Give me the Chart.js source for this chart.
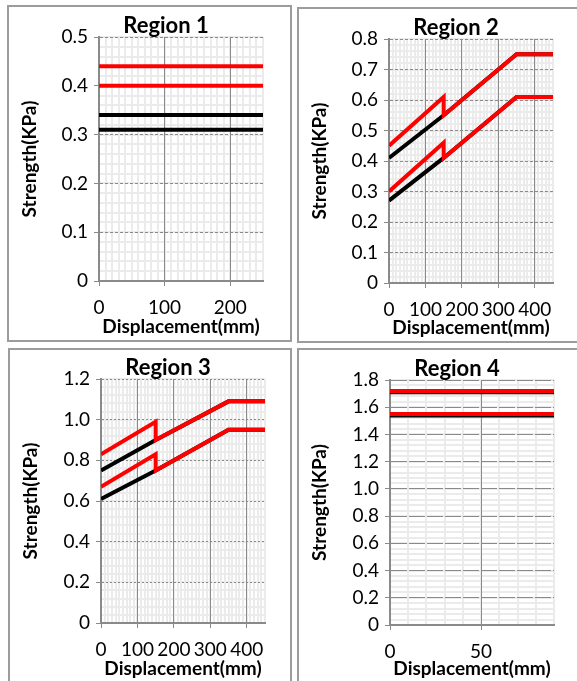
<!DOCTYPE html>
<html>
<head>
<meta charset="utf-8">
<title>Strength vs displacement by region</title>
<script src="https://cdn.jsdelivr.net/npm/chart.js@4.4.1/dist/chart.umd.min.js"></script>
<style>
  html, body { margin: 0; padding: 0; background: #fff; overflow: hidden; width: 577px; height: 681px; }
  .panel { position: absolute; border: 2px solid #9c9c9c; box-sizing: border-box; }
  canvas { position: absolute; }
</style>
</head>
<body>
<div class="panel" style="left:7px;top:5px;width:285px;height:337px"></div>
<div class="panel" style="left:297px;top:7px;width:300px;height:336px"></div>
<div class="panel" style="left:8px;top:348px;width:284px;height:360px"></div>
<div class="panel" style="left:297px;top:348px;width:300px;height:360px"></div>

<canvas id="region1" width="280" height="332" style="left:9px;top:7px"></canvas>
<canvas id="region2" width="278" height="331" style="left:299px;top:9px"></canvas>
<canvas id="region3" width="279" height="331" style="left:10px;top:350px"></canvas>
<canvas id="region4" width="278" height="331" style="left:299px;top:350px"></canvas>

<script>
// ---- data (displacement in mm, strength in KPa) ----

// Region 1: constant strength
const r1Disp = [0, 250];
const r1RedHigh = [0.44, 0.44];
const r1RedLow = [0.40, 0.40];
const r1BlackHigh = [0.34, 0.34];
const r1BlackLow = [0.31, 0.31];

// Region 2: red curves step down at 150 mm and join the black ones
const r2RedDisp = [0, 150, 150, 350, 450];
const r2BlackDisp = [0, 150, 350, 450];
const r2RedHigh = [0.45, 0.61, 0.55, 0.75, 0.75];
const r2BlackHigh = [0.41, 0.55, 0.75, 0.75];
const r2RedLow = [0.30, 0.46, 0.41, 0.61, 0.61];
const r2BlackLow = [0.27, 0.41, 0.61, 0.61];

// Region 3
const r3RedDisp = [0, 150, 150, 350, 450];
const r3BlackDisp = [0, 150, 350, 450];
const r3RedHigh = [0.83, 0.99, 0.90, 1.09, 1.09];
const r3BlackHigh = [0.75, 0.90, 1.09, 1.09];
const r3RedLow = [0.67, 0.83, 0.75, 0.95, 0.95];
const r3BlackLow = [0.61, 0.75, 0.95, 0.95];

// Region 4: constant strength
const r4Disp = [0, 90];
const r4RedHigh = [1.72, 1.72];
const r4RedLow = [1.55, 1.55];
const r4BlackHigh = [1.71, 1.71];
const r4BlackLow = [1.54, 1.54];

// ---- styling ----
const RED = '#ff0000';
const BLACK = '#000000';
const MAJOR = '#8a8a8a';
const MINOR = '#ebebeb';
const AXIS = '#8a8a8a';
const FONT = 'Lato, "Open Sans", sans-serif';

const pts = (xs, ys) => xs.map((x, i) => ({ x: x, y: ys[i] }));

const line = (xs, ys, color) => ({
  data: pts(xs, ys),
  xAxisID: 'x',
  yAxisID: 'y',
  borderColor: color,
  borderWidth: 4,
  pointRadius: 0,
  fill: false,
  tension: 0
});

// draws the "Region N" heading above the plot
const regionTitle = {
  id: 'regionTitle',
  afterDraw(chart, args, opts) {
    const { ctx, chartArea } = chart;
    ctx.save();
    ctx.font = 'bold 22px ' + FONT;
    ctx.fillStyle = '#000';
    ctx.textAlign = 'center';
    ctx.textBaseline = 'alphabetic';
    ctx.fillText(opts.text, (chartArea.left + chartArea.right) / 2 + opts.dx, chartArea.top - 4);
    ctx.restore();
  }
};

function makeChart(id, o) {
  const minorAxis = (pos, max, step) => ({
    type: 'linear',
    position: pos,
    min: 0,
    max: max,
    ticks: { display: false, stepSize: step },
    grid: { color: MINOR, lineWidth: 2, drawTicks: false },
    border: { display: false },
    afterFit: s => { if (pos === 'left') s.width = 0; else s.height = 0; }
  });

  return new Chart(document.getElementById(id), {
    type: 'line',
    data: { datasets: o.series },
    plugins: [regionTitle],
    options: {
      responsive: false,
      animation: false,
      layout: { padding: { top: o.padTop, right: o.padRight, left: 0, bottom: 0 } },
      plugins: {
        legend: { display: false },
        tooltip: { enabled: false },
        regionTitle: { text: o.title, dx: -15 }
      },
      scales: {
        xMinor: minorAxis('bottom', o.xMax, o.xMinor),
        yMinor: minorAxis('left', o.yMax, o.yMinor),
        x: {
          type: 'linear',
          position: 'bottom',
          min: 0,
          max: o.xMax,
          ticks: { stepSize: o.xStep, includeBounds: false, autoSkip: false, maxRotation: 0, padding: 10, color: '#000', font: { family: FONT, size: 19 } },
          grid: { color: MAJOR, lineWidth: 1, tickLength: 5 },
          border: { display: true, color: AXIS, width: 2 },
          title: { display: true, text: 'Displacement(mm)', color: '#000', padding: { top: 0, bottom: 1 }, font: { family: FONT, size: 19, weight: 'bold' } },
          afterFit: s => { s.height = o.xHeight; }
        },
        y: {
          type: 'linear',
          position: 'left',
          min: 0,
          max: o.yMax,
          ticks: { stepSize: o.yStep, padding: 6, color: '#000', font: { family: FONT, size: 19 } },
          grid: { color: MAJOR, lineWidth: 1, tickLength: 5, tickBorderDash: [] },
          border: { display: true, color: AXIS, width: 2, dash: o.dash },
          title: { display: true, text: 'Strength(KPa)', color: '#000', padding: { top: 9, bottom: 0 }, font: { family: FONT, size: 19, weight: 'bold' } },
          afterFit: s => { s.width = o.yWidth; }
        }
      }
    }
  });
}

makeChart('region1', {
  title: 'Region 1', xMax: 250, xStep: 100, xMinor: 10, yMax: 0.5, yStep: 0.1, yMinor: 0.02,
  padTop: 30, padRight: 26, yWidth: 90, xHeight: 58, dash: [3, 2],
  series: [
    line(r1Disp, r1RedHigh, RED), line(r1Disp, r1RedLow, RED),
    line(r1Disp, r1BlackHigh, BLACK), line(r1Disp, r1BlackLow, BLACK)
  ]
});

makeChart('region2', {
  title: 'Region 2', xMax: 450, xStep: 100, xMinor: 10, yMax: 0.8, yStep: 0.1, yMinor: 0.02,
  padTop: 30, padRight: 24, yWidth: 90, xHeight: 57, dash: [3, 2],
  series: [
    line(r2RedDisp, r2RedHigh, RED), line(r2RedDisp, r2RedLow, RED),
    line(r2BlackDisp, r2BlackHigh, BLACK), line(r2BlackDisp, r2BlackLow, BLACK)
  ]
});

makeChart('region3', {
  title: 'Region 3', xMax: 450, xStep: 100, xMinor: 10, yMax: 1.2, yStep: 0.2, yMinor: 0.04,
  padTop: 29, padRight: 24, yWidth: 91, xHeight: 58, dash: [2, 2],
  series: [
    line(r3RedDisp, r3RedHigh, RED), line(r3RedDisp, r3RedLow, RED),
    line(r3BlackDisp, r3BlackHigh, BLACK), line(r3BlackDisp, r3BlackLow, BLACK)
  ]
});

makeChart('region4', {
  title: 'Region 4', xMax: 90, xStep: 50, xMinor: 10, yMax: 1.8, yStep: 0.2, yMinor: 0.04,
  padTop: 30, padRight: 23, yWidth: 91, xHeight: 56, dash: [16, 2],
  series: [
    line(r4Disp, r4RedHigh, RED), line(r4Disp, r4RedLow, RED),
    line(r4Disp, r4BlackHigh, BLACK), line(r4Disp, r4BlackLow, BLACK)
  ]
});
</script>
</body>
</html>
